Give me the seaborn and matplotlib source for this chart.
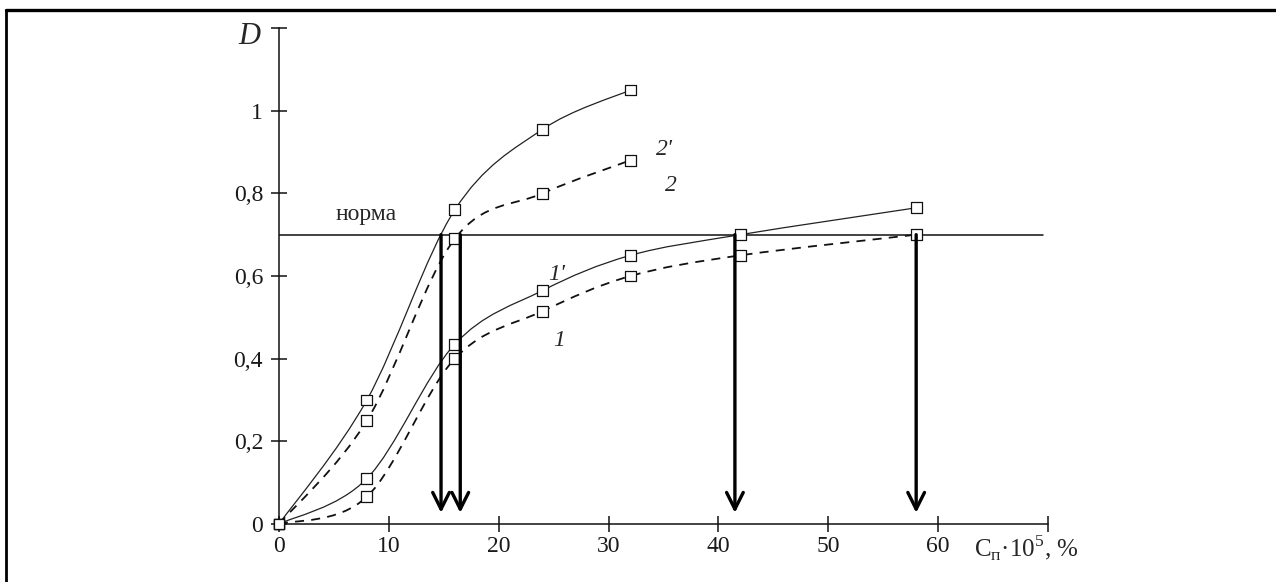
import numpy as np
import pandas as pd
import matplotlib
matplotlib.use("Agg")
import matplotlib.pyplot as plt
from matplotlib.path import Path
from matplotlib.patches import PathPatch
from matplotlib.lines import Line2D
import seaborn as sns

# ---- data ----
x_short = [0, 8, 16, 24, 32]
d_2prime = [0, 0.30, 0.76, 0.955, 1.05]
d_2 = [0, 0.25, 0.69, 0.80, 0.88]
x_long = [0, 8, 16, 24, 32, 42, 58]
d_1prime = [0, 0.11, 0.435, 0.565, 0.65, 0.70, 0.765]
d_1 = [0, 0.066, 0.40, 0.515, 0.60, 0.65, 0.70]
norm_level = 0.70
arrow_x = [14.75, 16.5, 41.5, 58]
arrow_bottom = 0.027
x_ticks = [0, 10, 20, 30, 40, 50, 60, 70]
x_ticklabels = ["0", "10", "20", "30", "40", "50", "60", ""]
y_ticks = [0, 0.2, 0.4, 0.6, 0.8, 1.0, 1.2]
y_ticklabels = ["0", "0,2", "0,4", "0,6", "0,8", "1", ""]
curve_names = ["2'", "2", "1'", "1"]

sns.set_style("white")
plt.rcParams["font.family"] = ["Liberation Serif", "DejaVu Serif"]
plt.rcParams["mathtext.fontset"] = "custom"
plt.rcParams["mathtext.rm"] = "Liberation Serif"

fig = plt.figure(figsize=(12.76, 5.82), dpi=100)
fig.patch.set_facecolor("white")
ax = fig.add_axes([279 / 1276, 58 / 582, 769 / 1276, 496 / 582])
ax.set_facecolor("white")

series = [
    (x_short, d_2prime, "solid"),
    (x_short, d_2, "dashed"),
    (x_long, d_1prime, "solid"),
    (x_long, d_1, "dashed"),
]

frames = []
for name, (xs, ys, _) in zip(curve_names, series):
    frames.append(pd.DataFrame({"x": xs, "D": ys, "curve": name}))
df = pd.concat(frames, ignore_index=True)


def smooth_path(xs, ys):
    pts = np.column_stack([xs, ys]).astype(float)
    n = len(pts)
    verts = [pts[0]]
    codes = [Path.MOVETO]
    for i in range(n - 1):
        p0 = pts[i - 1] if i > 0 else pts[i]
        p1 = pts[i]
        p2 = pts[i + 1]
        p3 = pts[i + 2] if i + 2 < n else pts[i + 1]
        c1 = p1 + (p2 - p0) / 6.0
        c2 = p2 - (p3 - p1) / 6.0
        verts += [c1, c2, p2]
        codes += [Path.CURVE4] * 3
    return Path(verts, codes)


for xs, ys, style in series:
    if style == "solid":
        patch = PathPatch(smooth_path(xs, ys), fill=False, edgecolor="#222222",
                          lw=0.9, transform=ax.transData, zorder=2)
    else:
        patch = PathPatch(smooth_path(xs, ys), fill=False, edgecolor="#111111",
                          lw=1.3, linestyle=(0, (5, 4)), transform=ax.transData, zorder=2)
    ax.add_patch(patch)

sns.scatterplot(data=df, x="x", y="D", style="curve", markers={n: "s" for n in curve_names},
                s=62, facecolor="white", edgecolor="#111111", linewidth=0.9,
                legend=False, ax=ax, zorder=4, color="white")
for coll in ax.collections:
    coll.set_clip_on(False)

# norm line
ax.plot([0, 69.5], [norm_level, norm_level], color="#111111", lw=1.1, zorder=3)

for xa in arrow_x:
    ax.annotate("", xy=(xa, arrow_bottom), xytext=(xa, norm_level),
                arrowprops=dict(arrowstyle="->,head_length=0.6,head_width=0.3",
                                lw=2.4, color="black", shrinkA=0, shrinkB=0,
                                mutation_scale=20),
                zorder=5)

ax.set_xlim(0, 70)
ax.set_ylim(0, 1.2)
ax.set_xticks(x_ticks)
ax.set_xticklabels(x_ticklabels)
ax.set_yticks(y_ticks)
ax.set_yticklabels(y_ticklabels)
ax.set_xlabel("")
ax.set_ylabel("")
for s in ["top", "right"]:
    ax.spines[s].set_visible(False)
for s in ["left", "bottom"]:
    ax.spines[s].set_color("#111111")
    ax.spines[s].set_linewidth(1.1)
ax.tick_params(axis="both", direction="inout", length=11, width=1.1, color="#111111",
               labelsize=17, labelcolor="#1a1a1a", bottom=True, left=True)
ax.tick_params(axis="x", pad=3)
ax.tick_params(axis="y", pad=6)

# axis titles
ax.text(-2.7, 1.18, "D", fontsize=22, style="italic", ha="center", va="center",
        clip_on=False)
ax.text(63.3, -0.058, r"C$_\mathregular{п}$·10$^\mathregular{5}$, %", fontsize=18,
        ha="left", va="center", clip_on=False)

# curve labels
label_pos = {"2'": (35.1, 0.906), "2": (35.7, 0.82), "1'": (25.3, 0.603), "1": (25.5, 0.445)}
for name in curve_names:
    lx, ly = label_pos[name]
    ax.text(lx, ly, name, fontsize=17, style="italic", ha="center", va="center")
ax.text(7.9, 0.748, "норма", fontsize=17, ha="center", va="center")

# frame lines of the original document
fig.add_artist(Line2D([6 / 1276, 1.0], [1 - 10 / 582, 1 - 10 / 582], transform=fig.transFigure,
                      color="black", lw=2.4))
fig.add_artist(Line2D([6 / 1276, 6 / 1276], [0, 1 - 10 / 582], transform=fig.transFigure,
                      color="black", lw=2.0))

fig.savefig("out.png", dpi=100, facecolor="white")
